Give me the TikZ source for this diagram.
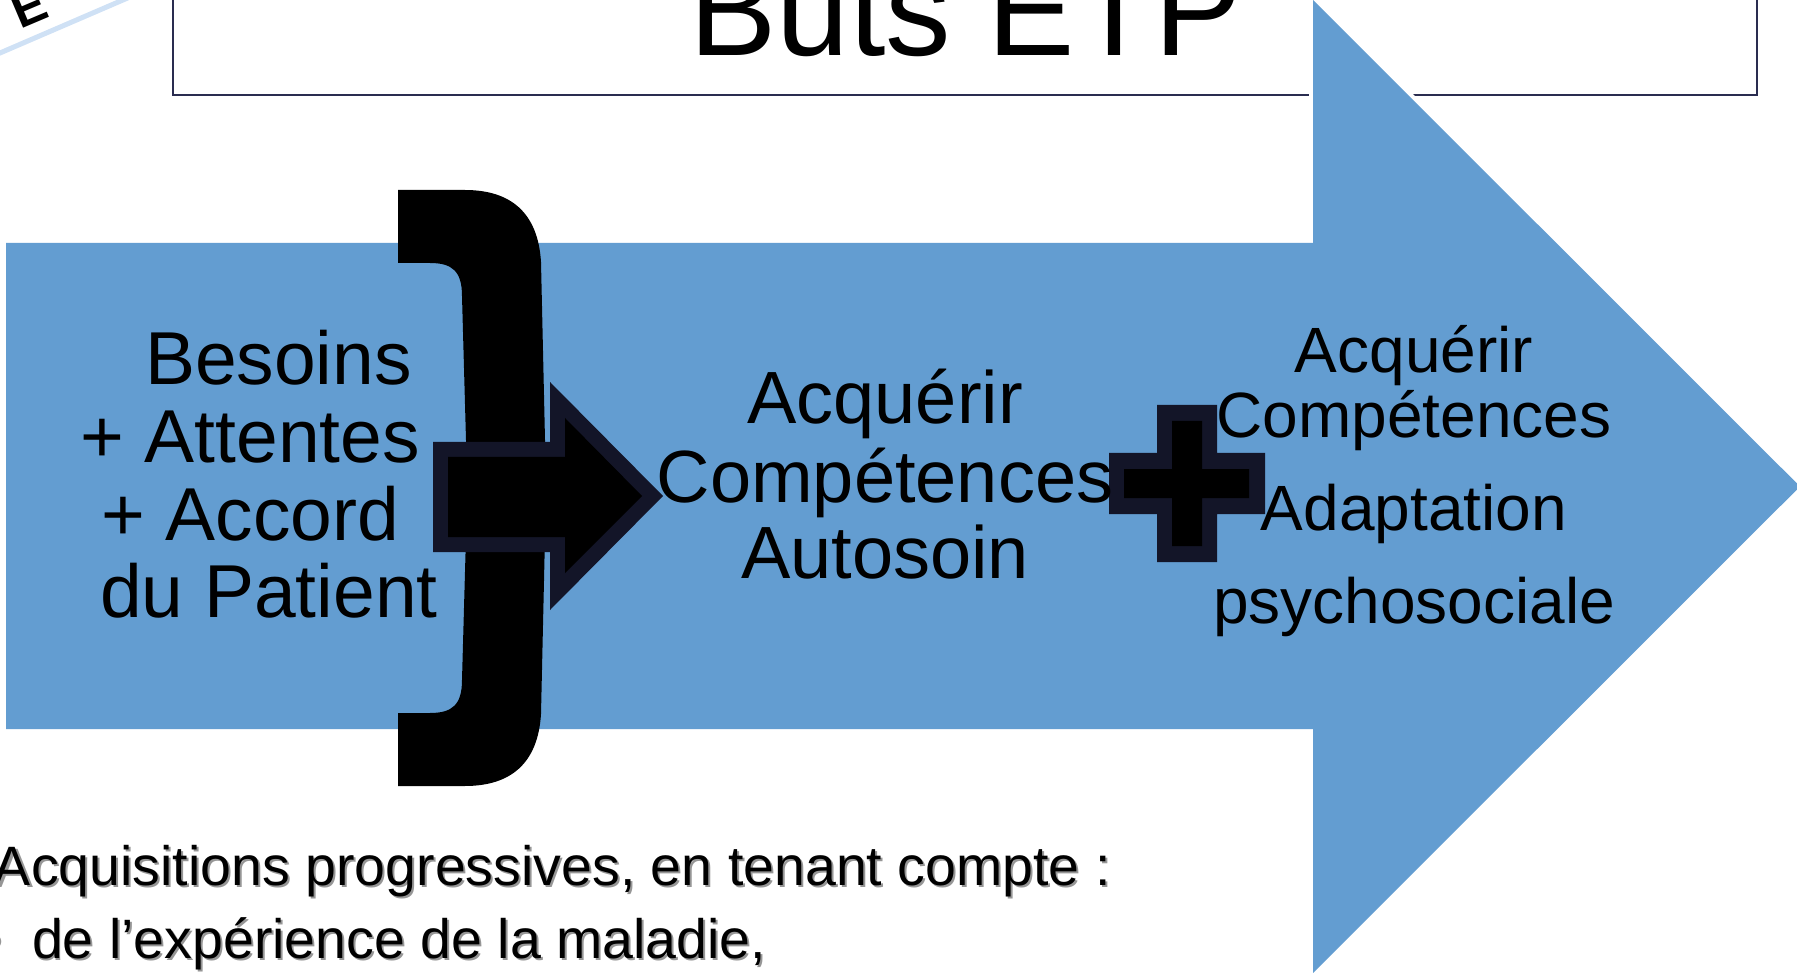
\documentclass[tikz,border=0pt]{standalone}
\usepackage{fontspec}
\setmainfont{Liberation Sans}
\definecolor{arrowblue}{RGB}{99,157,209}
\definecolor{navy}{RGB}{19,21,40}
\definecolor{boxline}{RGB}{42,45,80}
\definecolor{lightline}{RGB}{207,225,245}
\definecolor{shadowgray}{RGB}{150,150,150}
\begin{document}
\begin{tikzpicture}[x=1pt,y=-1pt,
  txt/.style={inner sep=0pt, outer sep=0pt, text=black},
  lefttxt/.style={txt, anchor=base west, font=\fontsize{75}{80}\selectfont},
  midtxt/.style={txt, anchor=base, font=\fontsize{74}{80}\selectfont},
  rgttxt/.style={txt, anchor=base, font=\fontsize{64}{70}\selectfont},
  lowtxt/.style={txt, anchor=base west, font=\fontsize{55.5}{60}\selectfont},
  shadowtxt/.style={text=shadowgray},
  outline/.style={fill=navy},
  inner/.style={fill=black}]
\useasboundingbox (0,0) rectangle (1797,973);
\clip (0,0) rectangle (1797,973);
% title box
\draw[boxline, line width=2.5pt, fill=white] (173,-20) rectangle (1757,95);
\node[txt, anchor=base west, font=\fontsize{131}{140}\selectfont] (title) at (689,56) {Buts ETP};
% top-left decoration
\draw[lightline, line width=5pt] (-10,57.3) -- (135,-5.2);
\node[txt, anchor=base west, rotate=23, font=\fontsize{50}{55}\selectfont\bfseries] (corner) at (20,30) {E};
% big blue arrow (white rim behind, then fill)
\draw[white, line width=8pt] (6,243) -- (1313,243) -- (1313,0) -- (1800,486.5) -- (1313,973) -- (1313,729) -- (6,729) -- cycle;
\fill[arrowblue] (6,243) -- (1313,243) -- (1313,0) -- (1800,486.5) -- (1313,973) -- (1313,729) -- (6,729) -- cycle;
% brace
\fill[black] (398,190) -- (465,190) .. controls (510,190) and (538,212) .. (541,262) -- (545,440) .. controls (546,470) and (550,484) .. (556,488)
  .. controls (550,492) and (546,506) .. (545,536) -- (541,714) .. controls (538,764) and (510,786) .. (465,786) -- (398,786) -- (398,713) -- (430,713)
  .. controls (452,713) and (462,705) .. (462,680) -- (466,536) .. controls (467,506) and (480,490) .. (500,488)
  .. controls (480,486) and (467,470) .. (466,440) -- (462,296) .. controls (462,271) and (452,263) .. (430,263) -- (398,263) -- cycle;
% black block arrow
\fill[outline] (433,442) -- (550,442) -- (550,382) -- (663,496) -- (550,610) -- (550,552) -- (433,552) -- cycle;
\fill[inner] (448,457) -- (565,457) -- (565,418) -- (642,496) -- (565,573) -- (565,537) -- (448,537) -- cycle;
% plus sign
\fill[outline] (1157,405) -- (1217,405) -- (1217,453) -- (1265,453) -- (1265,514) -- (1217,514) -- (1217,562) -- (1157,562) -- (1157,514) -- (1109,514) -- (1109,453) -- (1157,453) -- cycle;
\fill[inner] (1172,421) -- (1202,421) -- (1202,469) -- (1249,469) -- (1249,498) -- (1202,498) -- (1202,546) -- (1172,546) -- (1172,498) -- (1124,498) -- (1124,469) -- (1172,469) -- cycle;
% left text
\node[lefttxt] (l1) at (145,385) {Besoins};
\node[lefttxt] (l2) at (80,463) {+ Attentes};
\node[lefttxt] (l3) at (101,540) {+ Accord};
\node[lefttxt] (l4) at (100,617) {du Patient};
% middle text
\node[midtxt] (m1) at (885,424) {Acquérir};
\node[midtxt] (m2) at (885,502) {Compétences};
\node[midtxt] (m3) at (885,578) {Autosoin};
% right text
\node[rgttxt] (r1) at (1414,373) {Acquérir};
\node[rgttxt] (r2) at (1414,438) {Compétences};
\node[rgttxt] (r3) at (1414,530) {Adaptation};
\node[rgttxt] (r4) at (1414,623) {psychosociale};
% bottom text with shadow
\node[lowtxt, shadowtxt] (b1s) at (-4,887) {Acquisitions progressives, en tenant compte :};
\node[lowtxt] (b1) at (-6,885) {Acquisitions progressives, en tenant compte :};
\node[lowtxt, shadowtxt] (b2bs) at (-15,960) {•};
\node[lowtxt] (b2b) at (-17,958) {•};
\node[lowtxt, shadowtxt] (b2s) at (34,960) {de l’expérience de la maladie,};
\node[lowtxt] (b2) at (32,958) {de l’expérience de la maladie,};
\end{tikzpicture}
\end{document}
